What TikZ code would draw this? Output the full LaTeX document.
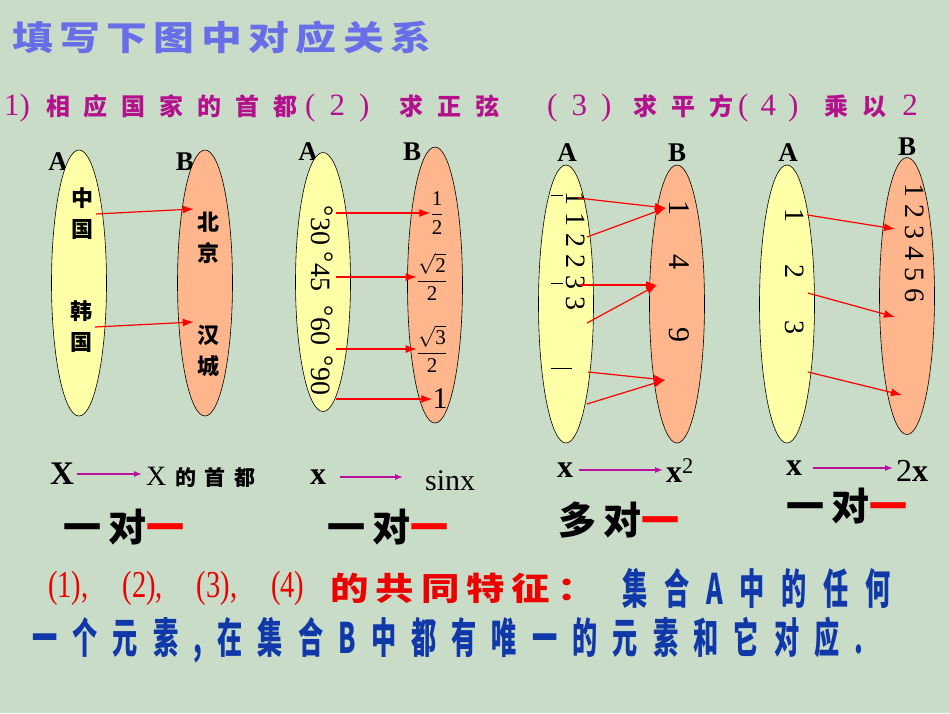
\documentclass[tikz,border=0pt]{standalone}
\usepackage{amsmath}
\usepackage{fontspec}
\setmainfont{Liberation Serif}
\newfontfamily\cjk{Noto Sans CJK SC}
\newfontfamily\cjkwide{Noto Sans CJK SC}[FakeStretch=1.2]
\newfontfamily\cjkslim{Noto Sans CJK SC}[FakeStretch=0.6]
\newfontfamily\serifnarrow{Liberation Serif}[FakeStretch=0.75]
\usetikzlibrary{positioning,arrows.meta,shapes.geometric}
\definecolor{board}{RGB}{200,220,199}
\definecolor{setAfill}{RGB}{255,255,168}
\definecolor{setBfill}{RGB}{255,182,140}
\definecolor{heading}{RGB}{104,110,232}
\definecolor{task}{RGB}{180,18,140}
\definecolor{maprule}{RGB}{186,16,160}
\definecolor{note}{RGB}{16,56,168}
\definecolor{hot}{RGB}{236,0,0}
\newcommand{\qz}[1]{{\cjk\bfseries\fontsize{24}{24}\selectfont\addfontfeature{LetterSpace=58}#1}}
\newcommand{\degmark}{\llap{\raisebox{3pt}{°}}}
\tikzset{
  setA/.style={ellipse,draw=black,line width=0.6pt,fill=setAfill,minimum width=55,inner sep=0pt},
  setB/.style={ellipse,draw=black,line width=0.6pt,fill=setBfill,minimum width=55,inner sep=0pt},
  setlabel/.style={font=\fontsize{27}{27}\selectfont\bfseries,inner sep=0pt},
  elem/.style={font=\fontsize{22}{31}\selectfont\cjk\bfseries,align=center,inner sep=3pt},
  num/.style={font=\fontsize{28}{28}\selectfont,rotate=-90,inner sep=3pt},
  val/.style={font=\fontsize{21}{21}\selectfont,inner sep=0pt},
  maps/.style={-{Latex[length=11pt,width=8pt]},red,line width=1.2pt},
  ruleline/.style={-{Latex[length=8pt,width=6pt]},maprule,line width=1.2pt},
  kind/.style={font=\fontsize{38}{38}\selectfont\cjk\bfseries\addfontfeature{LetterSpace=20},inner sep=0pt},
  task/.style={anchor=west,text=task,font=\fontsize{31}{31}\selectfont,inner sep=0pt},
  note/.style={anchor=west,inner sep=0pt,text=note}
}
\begin{document}
\begin{tikzpicture}[x=1pt,y=-1pt]
\fill[board] (0,0) rectangle (950,713);
\useasboundingbox (0,0) rectangle (950,713);

\node[anchor=west,inner sep=0pt,text=heading,font=\fontsize{34}{34}\selectfont\cjkwide\bfseries\addfontfeature{LetterSpace=19}] (title) at (12,38) {填写下图中对应关系};
\node[task] (q1) at (4,108) {1)\hspace{16pt}\qz{相应国家的首都}};
\node[task] (q2) at (305,108) {(\hspace{14pt}2\hspace{14pt})\hspace{30pt}\qz{求正弦}};
\node[task] (q3) at (547,108) {(\hspace{14pt}3\hspace{14pt})\hspace{22pt}\qz{求平方}};
\node[task] (q4) at (738,108) {(\hspace{12pt}4\hspace{12pt})\hspace{26pt}\qz{乘以}\hspace{16pt}2};

\node[setlabel] (a1) at (58,162) {A};
\node[setlabel] (b1) at (185,162) {B};
\node[setA,minimum height=266] (A1) at (79,283) {};
\node[setB,minimum height=266] (B1) at (205,283) {};
\node[elem] (cn) at (82,214) {中\\国};
\node[elem] (kr) at (81,327) {韩\\国};
\node[elem] (bj) at (208,238) {北\\京};
\node[elem] (hc) at (208,351) {汉\\城};
\draw[maps] (cn.east) -- (bj.north west);
\draw[maps] (kr.east) -- (hc.north west);

\node[setlabel] (a2) at (308,152) {A};
\node[setlabel] (b2) at (412,152) {B};
\node[setA,minimum height=259] (A2) at (323,282) {};
\node[setB,minimum height=276] (B2) at (435,285) {};
\node[num] (d30) at (322,231) {\degmark 30};
\node[num] (d45) at (322,277) {\degmark 45};
\node[num] (d60) at (322,331) {\degmark 60};
\node[num] (d90) at (322,381) {\degmark 90};
\node[val] (half) at (437,213) {$\dfrac{\text{1}}{\text{2}}$};
\node[val] (rt2) at (432,277) {$\dfrac{\sqrt{\text{2}}}{\text{2}}$};
\node[val] (rt3) at (432,349) {$\dfrac{\sqrt{\text{3}}}{\text{2}}$};
\node[val,font=\fontsize{30}{30}\selectfont] (one) at (440,399) {1};
\draw[maps] (d30.north |- half.west) -- (half.west);
\draw[maps] (d45.north |- rt2.west) -- (rt2.west);
\draw[maps] (d60.north |- rt3.west) -- (rt3.west);
\draw[maps] (d90.north |- one.west) -- (one.west);

\node[setlabel] (a3) at (567,153) {A};
\node[setlabel] (b3) at (677,153) {B};
\node[setA,minimum height=278] (A3) at (566,304) {};
\node[setB,minimum height=278] (B3) at (677,304) {};
\node[num] (sq) at (576,251) {1 1 2 2 3 3};
\draw[line width=0.8pt] (551,195) -- (563,195) (551,283) -- (563,283) (551,368) -- (572,368);
\node[num,font=\fontsize{30}{30}\selectfont] (v1) at (679,208) {1};
\node[num,font=\fontsize{30}{30}\selectfont] (v4) at (679,262) {4};
\node[num,font=\fontsize{30}{30}\selectfont] (v9) at (679,335) {9};
\coordinate (m1) at (578,198);
\coordinate (m2) at (587,237);
\coordinate (m3) at (580,285);
\coordinate (m4) at (587,323);
\coordinate (m5) at (588,372);
\coordinate (m6) at (587,404);
\coordinate (t2) at (657,285);
\coordinate (t3) at (665,380);
\draw[maps] (m1) -- (v1.south);
\draw[maps] (m2) -- (v1.south);
\draw[maps] (m3) -- (t2);
\draw[maps] (m4) -- (t2);
\draw[maps] (m5) -- (t3);
\draw[maps] (m6) -- (t3);

\node[setlabel] (a4) at (788,153) {A};
\node[setlabel] (b4) at (907,147) {B};
\node[setA,minimum height=278] (A4) at (787,304) {};
\node[setB,minimum height=277] (B4) at (907,296) {};
\node[num] (n1) at (795,215) {1};
\node[num] (n2) at (795,271) {2};
\node[num] (n3) at (795,327) {3};
\node[num] (six) at (915,243) {1 2 3 4 5 6};
\coordinate (p2) at (808,293);
\coordinate (p3) at (808,372);
\coordinate (u1) at (895,229);
\coordinate (u2) at (895,317);
\coordinate (u3) at (902,395);
\draw[maps] (n1.north) -- (u1);
\draw[maps] (p2) -- (u2);
\draw[maps] (p3) -- (u3);

\node[font=\fontsize{33}{33}\selectfont\bfseries] (X) at (62,474) {X};
\node[anchor=west,inner sep=0pt,font=\fontsize{28}{28}\selectfont] (Xcap) at (146,477) {X\hspace{9pt}{\cjk\bfseries\fontsize{21}{21}\selectfont\addfontfeature{LetterSpace=40}的首都}};
\draw[ruleline,shorten >=4pt] (X.east) -- (X.east -| Xcap.west);
\node[font=\fontsize{32}{32}\selectfont\bfseries] (x2) at (318,477) {x};
\node[anchor=west,inner sep=0pt,font=\fontsize{30}{30}\selectfont] (sinx) at (425,481) {sinx};
\draw[ruleline,shorten <=10pt,shorten >=22pt] (x2.east) -- (x2.east -| sinx.west);
\node[font=\fontsize{32}{32}\selectfont\bfseries] (x3) at (565,470) {x};
\node[anchor=west,inner sep=0pt,font=\fontsize{32}{32}\selectfont] (sq2) at (666,471) {\textbf{x}\textsuperscript{2}};
\draw[ruleline,shorten <=2pt,shorten >=3pt] (x3.east) -- (x3.east -| sq2.west);
\node[font=\fontsize{32}{32}\selectfont\bfseries] (x4) at (794,468) {x};
\node[anchor=west,inner sep=0pt,font=\fontsize{32}{32}\selectfont] (dbl) at (896,471) {2\textbf{x}};
\draw[ruleline,shorten <=7pt,shorten >=3pt] (x4.east) -- (x4.east -| dbl.west);

\node[kind] (k1) at (124,527) {一对\textcolor{red}{一}};
\node[kind] (k2) at (388,527) {一对\textcolor{red}{一}};
\node[kind] (k3) at (619,520) {多对\textcolor{red}{一}};
\node[kind] (k4) at (847,506) {一对\textcolor{red}{一}};

\node[anchor=west,inner sep=0pt,text=hot,font=\fontsize{38}{38}\selectfont\serifnarrow] (cases) at (48,588) {(1),\hspace{34pt}(2),\hspace{34pt}(3),\hspace{34pt}(4)};
\node[anchor=west,inner sep=0pt,text=hot,font=\fontsize{32}{32}\selectfont\cjkwide\bfseries\addfontfeature{LetterSpace=22}] (common) at (330,588) {的共同特征：};
\node[note,font=\fontsize{42}{42}\selectfont\cjkslim\bfseries\addfontfeature{LetterSpace=40}] (anyA) at (622,588) {集合A中的任何};
\node[note,font=\fontsize{42}{42}\selectfont\cjkslim\bfseries\addfontfeature{LetterSpace=36}] (unique) at (32,640) {一个元素,在集合B中都有唯一的元素和它对应.};
\end{tikzpicture}
\end{document}
